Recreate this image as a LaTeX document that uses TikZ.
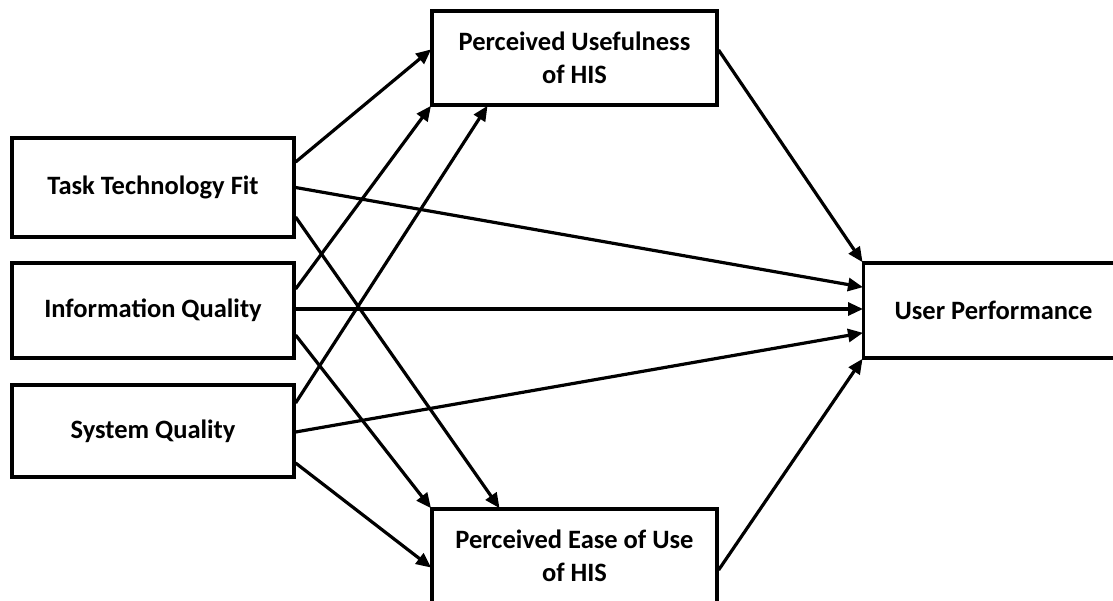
\documentclass[tikz,border=0pt]{standalone}
\usepackage{fontspec}
\setmainfont{Carlito}
\usetikzlibrary{arrows.meta}

\begin{document}
\begin{tikzpicture}[x=1pt, y=-1pt, line width=3.2pt,
  box/.style={draw, rectangle, align=center, font=\fontsize{26.5}{33}\selectfont\bfseries},
  link/.style={-{Triangle[length=15pt,width=13pt]}, shorten >=-1pt}]
\useasboundingbox (0,0) rectangle (1113,600);
\clip (0,0) rectangle (1113,600);
\node[box, minimum width=282pt, minimum height=99pt] (ttf) at (153,187.5) {Task Technology Fit};
\node[box, minimum width=282pt, minimum height=95pt] (iq) at (153,310.5) {Information Quality};
\node[box, minimum width=282pt, minimum height=92pt] (sq) at (153,431) {System Quality};
\node[box, minimum width=285pt, minimum height=94pt] (pu) at (574.5,58) {Perceived Usefulness\\of HIS};
\node[box, minimum width=285pt, minimum height=94pt] (peu) at (574.5,556) {Perceived Ease of Use\\of HIS};
\node[box, minimum height=95pt, inner xsep=31pt, text width=230pt, align=flush left, anchor=west] (up) at (862,310.5) {User Performance};

\draw[link] ([yshift=25.5pt]ttf.east) -- ([yshift=8pt]pu.west);
\draw[link] ([yshift=21.5pt]iq.east) -- (pu.south west);
\draw[link] ([yshift=28pt]sq.east) -- ([xshift=-87.5pt]pu.south);
\draw[link] (ttf.east) -- ([yshift=23.5pt]up.west);
\draw[link] ([yshift=1.5pt]iq.east) -- ([yshift=1.5pt]iq.east -| up.west);
\draw[link] ([yshift=-1pt]sq.east) -- ([yshift=-22.5pt]up.west);
\draw[link] ([yshift=-29.5pt]ttf.east) -- ([xshift=-75.5pt]peu.north);
\draw[link] ([yshift=-24.5pt]iq.east) -- (peu.north west);
\draw[link] ([yshift=-32pt]sq.east) -- ([yshift=-11pt]peu.west);
\draw[link] ([yshift=8pt]pu.east) -- (up.north west);
\draw[link] ([yshift=-14pt]peu.east) -- (up.south west);
\end{tikzpicture}
\end{document}
